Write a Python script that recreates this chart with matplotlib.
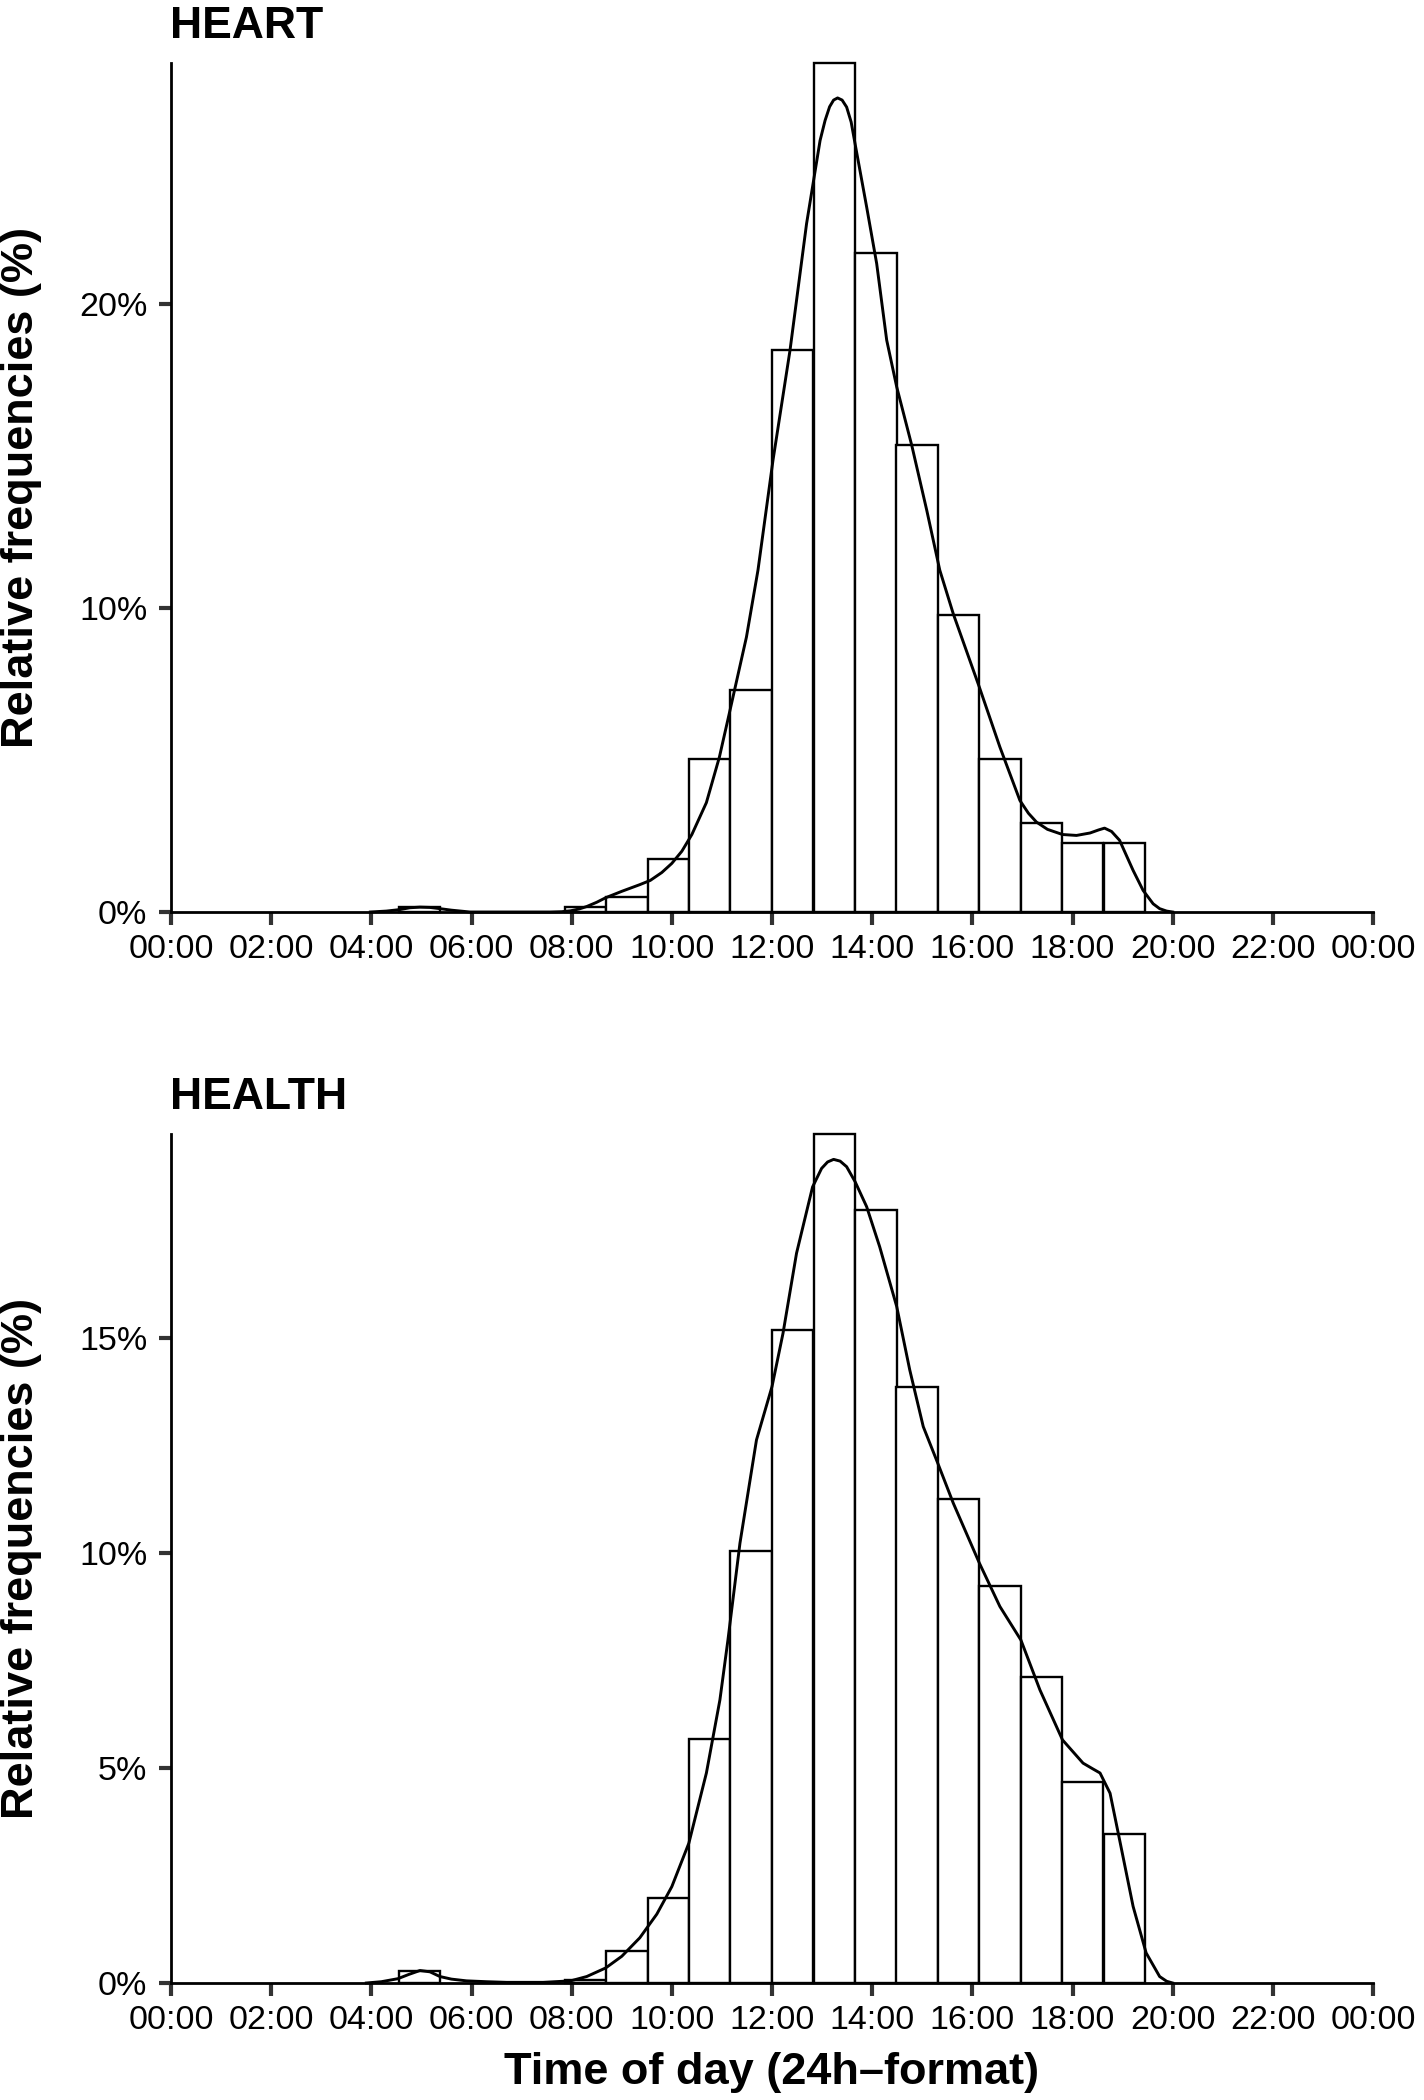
import numpy as np
import matplotlib
matplotlib.use("Agg")
import matplotlib.pyplot as plt

plt.rcParams['font.family'] = ['Liberation Sans', 'DejaVu Sans']

# ===== data =====
# histogram bins: left edge in hours, bin width 24/29 h
bin_starts = [4.55, 7.86, 8.69, 9.52, 10.34, 11.17, 12.00, 12.83,
              13.66, 14.48, 15.31, 16.14, 16.97, 17.79, 18.62]
bin_width = 24 / 29

heart_pct = [0.15, 0.15, 0.51, 1.74, 5.04, 7.32, 18.51, 27.94,
             21.69, 15.38, 9.79, 5.04, 2.94, 2.27, 2.27]
health_pct = [0.28, 0.08, 0.74, 1.97, 5.67, 10.04, 15.17, 19.73,
              17.96, 13.84, 11.24, 9.23, 7.11, 4.67, 3.47]

# density curves (hours, %)
heart_kde_h = [3.98, 4.3, 4.57, 4.77, 4.97, 5.17, 5.37, 5.6, 5.97, 6.5, 7.0, 7.57,
               7.8, 7.98, 8.15, 8.3, 8.5, 8.68, 9.0, 9.36, 9.57, 9.8, 10.0, 10.2,
               10.4, 10.69, 10.95, 11.17, 11.49, 11.72, 12.02, 12.36, 12.69, 12.96,
               13.06, 13.15, 13.23, 13.31, 13.4, 13.49, 13.58, 13.67, 13.89,
               14.09, 14.29, 14.49, 14.79, 15.09, 15.35, 15.62, 16.14, 16.55, 16.95,
               17.12, 17.28, 17.5, 17.80, 18.08, 18.35, 18.52, 18.64, 18.78, 18.94,
               19.21, 19.41, 19.61, 19.74, 19.88, 20.0]
heart_kde_pct = [0, 0.03, 0.08, 0.14, 0.16, 0.15, 0.11, 0.06, 0.0, 0, 0, 0,
                 0.01, 0.04, 0.1, 0.18, 0.32, 0.47, 0.68, 0.9, 1.04, 1.3, 1.6, 2.0,
                 2.55, 3.6, 5.1, 6.7, 9.05, 11.25, 14.87, 18.49, 22.65, 25.39,
                 26.05, 26.5, 26.72, 26.79, 26.72, 26.49, 26.0, 25.18, 23.2,
                 21.34, 18.82, 17.28, 15.36, 13.22, 11.25, 9.81, 7.40, 5.43, 3.67,
                 3.25, 2.96, 2.72, 2.55, 2.52, 2.60, 2.70, 2.76, 2.65, 2.36,
                 1.37, 0.71, 0.27, 0.11, 0.03, 0]

health_kde_h = [3.9, 4.2, 4.53, 4.75, 4.97, 5.17, 5.37, 5.6, 5.9, 6.3, 6.7, 7.43,
                7.98, 8.3, 8.68, 9.0, 9.36, 9.7, 10.0, 10.34, 10.69, 10.96, 11.12, 11.36,
                11.69, 12.0, 12.22, 12.49, 12.81, 12.99, 13.11, 13.23, 13.36, 13.49,
                13.66, 13.89, 14.15, 14.49, 14.75, 15.02, 15.31, 15.62, 16.14, 16.55,
                16.97, 17.35, 17.80, 18.21, 18.4, 18.55, 18.75, 18.94, 19.21, 19.47,
                19.74, 19.88, 20.0]
health_kde_pct = [0, 0.03, 0.10, 0.2, 0.29, 0.26, 0.15, 0.09, 0.05, 0.03, 0.015, 0.015,
                  0.05, 0.15, 0.35, 0.62, 1.05, 1.6, 2.24, 3.25, 4.88, 6.58, 7.97, 10.22,
                  12.62, 13.86, 15.1, 16.96, 18.5, 18.93, 19.08, 19.14, 19.1, 18.97,
                  18.62, 18.04, 17.11, 15.72, 14.25, 12.93, 12.08, 11.15, 9.76, 8.75,
                  7.97, 6.81, 5.65, 5.11, 4.98, 4.88, 4.41, 3.33, 1.78, 0.70,
                  0.15, 0.04, 0]

hour_ticks = [0, 2, 4, 6, 8, 10, 12, 14, 16, 18, 20, 22, 24]
hour_labels = ["00:00", "02:00", "04:00", "06:00", "08:00", "10:00", "12:00",
               "14:00", "16:00", "18:00", "20:00", "22:00", "00:00"]
heart_yticks = [0, 10, 20]
health_yticks = [0, 5, 10, 15]


# ===== one panel =====
def draw_panel(ax, pct, kde_h, kde_pct, yticks):
    ax.bar(bin_starts, pct, width=bin_width, align="edge",
           facecolor="white", edgecolor="black", linewidth=1.7, clip_on=False, zorder=2)
    ax.plot(kde_h, kde_pct, color="black", linewidth=2.1, zorder=3, clip_on=False,
            solid_joinstyle="round")

    ax.set_xlim(0, 24)
    ax.set_ylim(0, max(pct))
    ax.set_xticks(hour_ticks)
    ax.set_xticklabels(hour_labels)
    ax.set_yticks(yticks)
    ax.set_yticklabels([f"{t}%" for t in yticks])

    for side in ["top", "right"]:
        ax.spines[side].set_visible(False)
    for side in ["left", "bottom"]:
        ax.spines[side].set_linewidth(2.0)
        ax.spines[side].set_zorder(4)
    ax.tick_params(axis="both", direction="out", length=9, width=3.0,
                   color="#333333", labelsize=24.5, labelcolor="black")
    ax.tick_params(axis="x", pad=7)
    ax.tick_params(axis="y", pad=8)


fig = plt.figure(figsize=(14.24, 21.0), dpi=100)

ax_top = fig.add_axes([171 / 1424, 1 - 912 / 2100, 1202 / 1424, 849 / 2100])
ax_bot = fig.add_axes([171 / 1424, 1 - 1983 / 2100, 1202 / 1424, 849 / 2100])

draw_panel(ax_top, heart_pct, heart_kde_h, heart_kde_pct, heart_yticks)
draw_panel(ax_bot, health_pct, health_kde_h, health_kde_pct, health_yticks)

fig.text(170 / 1424, 1 - 38 / 2100, "HEART", fontsize=32, fontweight="bold",
         ha="left", va="baseline")
fig.text(170 / 1424, 1 - 1109 / 2100, "HEALTH", fontsize=32, fontweight="bold",
         ha="left", va="baseline")

for yc in [487.5, 1558.5]:
    fig.text(22 / 1424, 1 - yc / 2100, "Relative frequencies (%)", fontsize=32.5,
             fontweight="bold", rotation=90, ha="center", va="center")

fig.text(772 / 1424, 1 - 2084 / 2100, "Time of day (24h\u2013format)", fontsize=32.5,
         fontweight="bold", ha="center", va="baseline")

fig.savefig("out.png", dpi=100)
